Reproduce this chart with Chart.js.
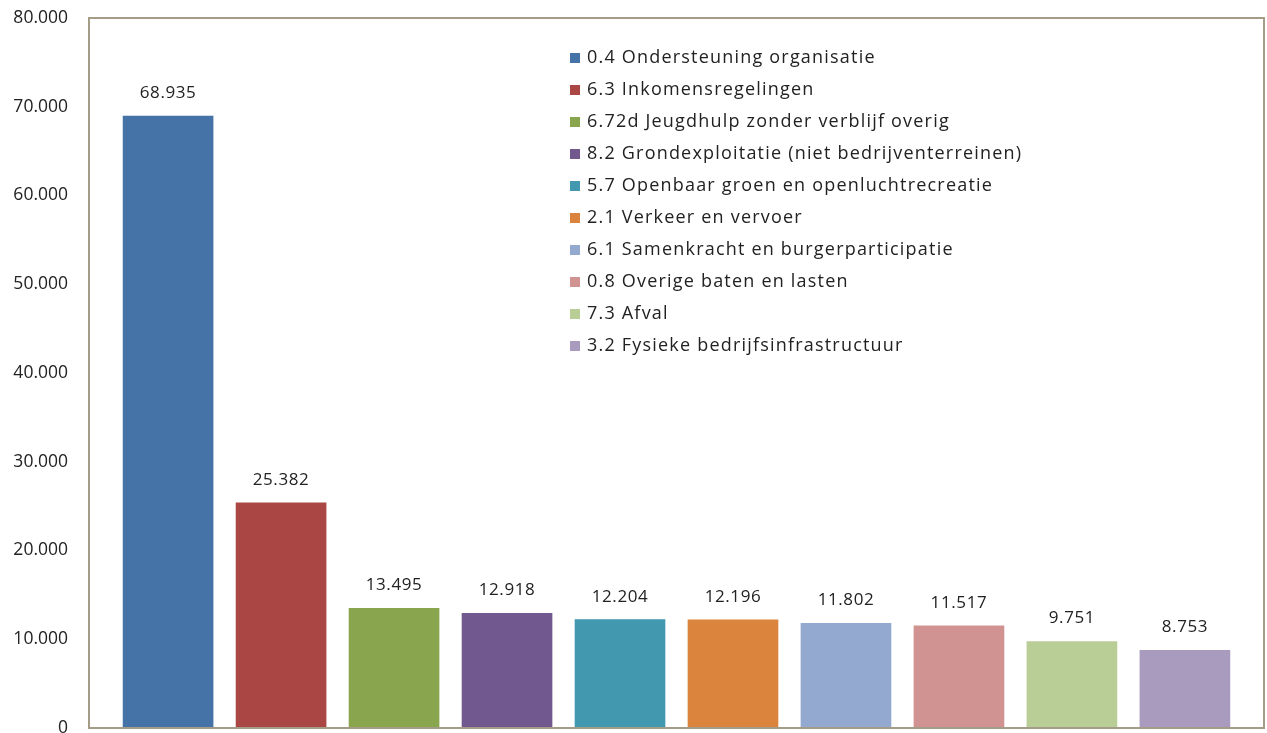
<!DOCTYPE html>
<html>
<head>
<meta charset="utf-8">
<script src="https://cdn.jsdelivr.net/npm/chart.js@4"></script>
<style>
  html, body { margin: 0; padding: 0; background: #fff; }
  #wrap { width: 1267px; height: 733px; }
</style>
</head>
<body>
<div id="wrap"><canvas id="chart" width="1267" height="733"></canvas></div>
<script>
const categories = [
  '0.4 Ondersteuning organisatie',
  '6.3 Inkomensregelingen',
  '6.72d Jeugdhulp zonder verblijf overig',
  '8.2 Grondexploitatie (niet bedrijventerreinen)',
  '5.7 Openbaar groen en openluchtrecreatie',
  '2.1 Verkeer en vervoer',
  '6.1 Samenkracht en burgerparticipatie',
  '0.8 Overige baten en lasten',
  '7.3 Afval',
  '3.2 Fysieke bedrijfsinfrastructuur'
];
const values = [68935, 25382, 13495, 12918, 12204, 12196, 11802, 11517, 9751, 8753];
const barColors = ['#4572A7', '#AA4643', '#89A54E', '#71588F', '#4198AF', '#DB843D', '#93A9CF', '#D19392', '#B9CD96', '#A99BBD'];

const FONT = '"Open Sans", sans-serif';
const fmt = v => v.toLocaleString('nl-NL');

// border around the plot area
const frame = {
  id: 'frame',
  afterDraw(chart) {
    const a = chart.chartArea, ctx = chart.ctx;
    ctx.save();
    ctx.strokeStyle = '#a49c86';
    ctx.lineWidth = 2;
    ctx.strokeRect(a.left, a.top, a.right - a.left, a.bottom - a.top);
    ctx.restore();
  }
};

// value labels above each bar
const valueLabels = {
  id: 'valueLabels',
  afterDatasetsDraw(chart) {
    const ctx = chart.ctx;
    const meta = chart.getDatasetMeta(0);
    ctx.save();
    ctx.font = '17px ' + FONT;
    ctx.letterSpacing = '0.6px';
    ctx.fillStyle = '#222';
    ctx.textAlign = 'center';
    ctx.textBaseline = 'middle';
    meta.data.forEach((bar, i) => {
      ctx.fillText(fmt(values[i]), bar.x, bar.y - 23);
    });
    ctx.restore();
  }
};

// legend inside the plot
const innerLegend = {
  id: 'innerLegend',
  afterDraw(chart) {
    const ctx = chart.ctx;
    const x0 = 570, y0 = 58, step = 32;
    ctx.save();
    ctx.font = '18px ' + FONT;
    ctx.letterSpacing = '1.2px';
    ctx.textBaseline = 'middle';
    categories.forEach((c, i) => {
      const y = y0 + i * step;
      ctx.fillStyle = barColors[i];
      ctx.fillRect(x0, y - 5, 10, 10);
      ctx.fillStyle = '#222';
      ctx.fillText(c, x0 + 17, y);
    });
    ctx.restore();
  }
};

new Chart(document.getElementById('chart'), {
  type: 'bar',
  data: {
    labels: categories,
    datasets: [{
      data: values.map((v, i) => ({ x: i, y: v })),
      backgroundColor: barColors,
      borderWidth: 0,
      barThickness: 90
    }]
  },
  options: {
    responsive: false,
    animation: false,
    layout: { padding: { top: 18, right: 3, bottom: 5, left: 0 } },
    plugins: {
      legend: { display: false },
      tooltip: { enabled: false }
    },
    scales: {
      x: {
        type: 'linear',
        min: -0.7,
        max: 9.7,
        offset: false,
        display: false
      },
      y: {
        min: 0,
        max: 80000,
        afterFit(scale) {
          scale.width = 89;
          scale.paddingTop = 0;
          scale.paddingBottom = 0;
        },
        grid: { display: false, drawTicks: false },
        border: { display: false },
        ticks: {
          stepSize: 10000,
          padding: 21,
          color: '#222',
          font: { size: 17.5, family: FONT },
          callback: v => fmt(v)
        }
      }
    }
  },
  plugins: [frame, valueLabels, innerLegend]
});
</script>
</body>
</html>
